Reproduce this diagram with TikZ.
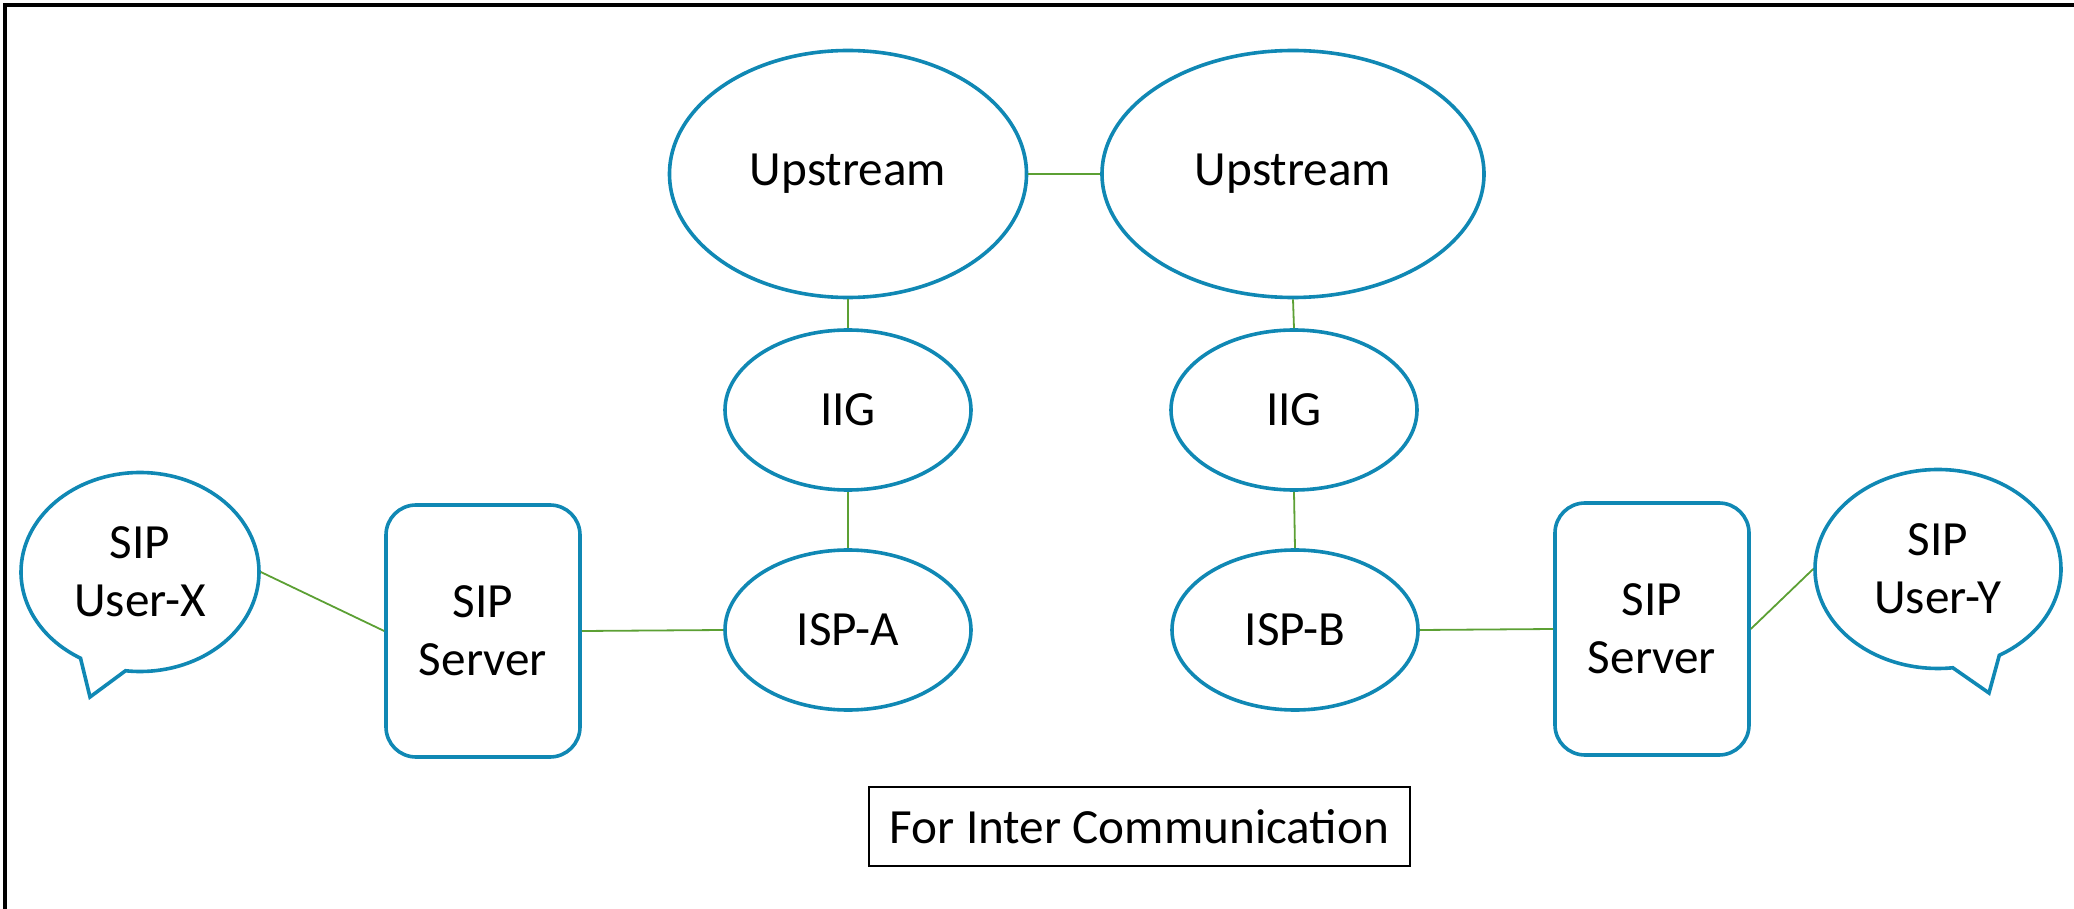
\documentclass[tikz,border=0pt]{standalone}
\usepackage{fontspec}
\setmainfont{Carlito}
\usetikzlibrary{shapes.geometric,shapes.callouts}
\definecolor{nodeblue}{RGB}{16,136,180}
\definecolor{linkgreen}{RGB}{92,160,52}
\begin{document}
\begin{tikzpicture}[x=0.5pt,y=-0.5pt,
  every node/.style={font=\fontsize{24.6}{29}\selectfont, align=center, inner sep=0pt},
  bubble/.style={ellipse, draw=nodeblue, line width=1.8pt, fill=white},
  server/.style={rectangle, rounded corners=15pt, draw=nodeblue, line width=1.8pt, minimum width=97pt, minimum height=126pt},
  usercall/.style={ellipse callout, draw=nodeblue, line width=1.8pt, callout pointer arc=23},
  link/.style={draw=linkgreen, line width=0.9pt},
  caption/.style={rectangle, draw=black, line width=1.4pt, minimum width=270.5pt, minimum height=39.5pt}]
\useasboundingbox (0,0) rectangle (2074,909);
\draw[line width=1.8pt] (5,909) -- (5,5) -- (2074,5);

\node[bubble, minimum width=178.5pt, minimum height=123.5pt] (upL) at (848,174) {Upstream};
\node[bubble, minimum width=191pt, minimum height=123.5pt] (upR) at (1293,174) {Upstream};
\node[bubble, minimum width=123pt, minimum height=80pt] (iigL) at (848,410) {IIG};
\node[bubble, minimum width=123pt, minimum height=80pt] (iigR) at (1294,410) {IIG};
\node[bubble, minimum width=123pt, minimum height=80pt] (ispA) at (848,630) {ISP-A};
\node[bubble, minimum width=123pt, minimum height=80pt] (ispB) at (1295,630) {ISP-B};
\node[server] (srvL) at (483,631) {SIP\\Server};
\node[server] (srvR) at (1652,629) {SIP\\Server};
\node[usercall, minimum width=119pt, minimum height=99.5pt, callout absolute pointer={(90,697)}] (ux) at (140,572) {SIP\\User-X};
\node[usercall, minimum width=123pt, minimum height=99.5pt, callout absolute pointer={(1989,693)}] (uy) at (1938,569) {SIP\\User-Y};
\node[caption] (cap) at (1139.5,826.5) {For Inter Communication};

\draw[link] (upL.east) -- (upR.west);
\draw[link] (upL.south) -- (iigL.north);
\draw[link] (upR.south) -- (iigR.north);
\draw[link] (iigL.south) -- (ispA.north);
\draw[link] (iigR.south) -- (ispB.north);
\draw[link] (ispA.west) -- (srvL.east);
\draw[link] (ispB.east) -- (srvR.west);
\draw[link] (ux.east) -- (srvL.west);
\draw[link] (srvR.east) -- (uy.west);
\end{tikzpicture}
\end{document}
